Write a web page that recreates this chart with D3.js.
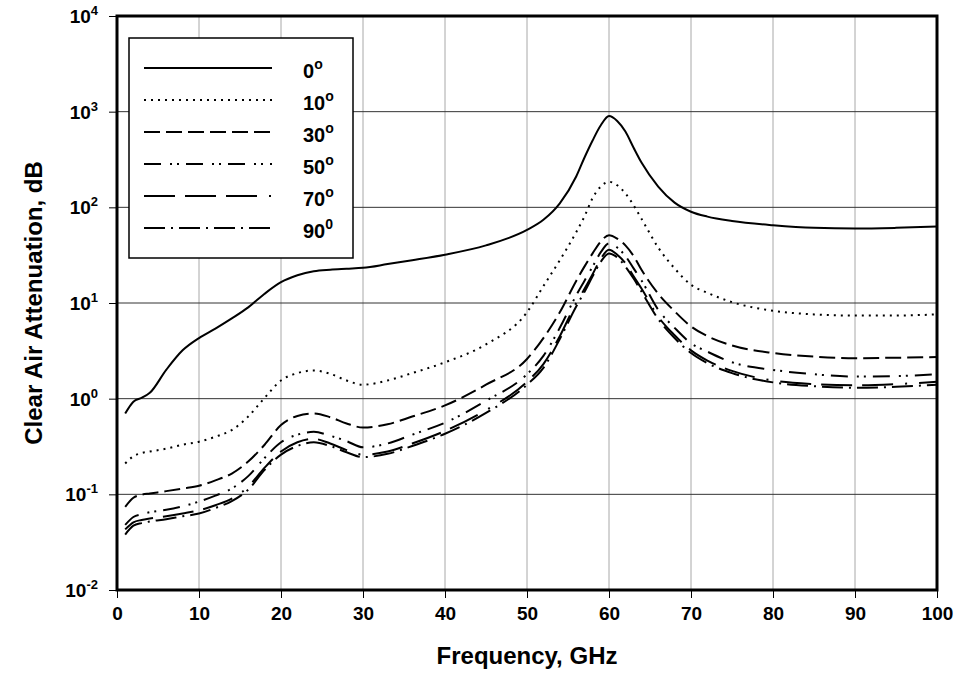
<!DOCTYPE html>
<html>
<head>
<meta charset="utf-8">
<script src="https://cdn.jsdelivr.net/npm/d3@7"></script>
<style>
  html, body { margin: 0; padding: 0; background: #fff; }
  svg { display: block; font-family: "Liberation Sans", Arial, sans-serif; }
</style>
</head>
<body>
<svg id="chart" width="962" height="692"></svg>
<script>
// ---------- data ----------
const freq = [1,2,3,4,6,8,10,12,14,16,18,20,22,24,26,28,30,33,36,40,45,50,52,54,56,57,58,59,60,61,62,63,64,66,68,70,72,75,80,85,90,95,100];

const att0  = [0.70,0.93,1.02,1.15,2.0,3.2,4.3,5.4,6.9,9.0,12.5,16.5,19.5,21.5,22.3,22.8,23.3,25.5,28,32,40,58,74,110,210,330,500,720,900,800,620,420,290,165,112,90,80,72,65,61,60,61,63];
const att10 = [0.21,0.25,0.27,0.28,0.30,0.33,0.355,0.40,0.47,0.65,1.02,1.55,1.85,1.97,1.82,1.55,1.40,1.55,1.85,2.4,3.7,8,15,28,55,80,125,165,185,170,140,105,75,38,23,15.5,12.8,10.2,8.3,7.6,7.4,7.4,7.6];
const att30 = [0.074,0.092,0.099,0.102,0.108,0.115,0.123,0.14,0.165,0.22,0.33,0.53,0.66,0.70,0.64,0.55,0.50,0.54,0.65,0.85,1.4,2.6,4.3,8,17,24,33,44,51,47,40,31,22,12.5,8.2,5.7,4.5,3.6,3.0,2.75,2.65,2.68,2.72];
const att50 = [0.048,0.058,0.062,0.065,0.069,0.075,0.084,0.097,0.115,0.155,0.24,0.35,0.42,0.45,0.41,0.36,0.31,0.34,0.42,0.56,0.95,1.8,2.8,5.5,12,17,24,34,42,38,31,23,17,8.5,5.5,3.8,3.1,2.4,2.0,1.8,1.7,1.72,1.8];
const att70 = [0.043,0.051,0.054,0.056,0.059,0.063,0.068,0.077,0.09,0.12,0.19,0.28,0.35,0.38,0.34,0.29,0.26,0.28,0.34,0.46,0.76,1.5,2.3,4.5,10,14,20,29,36,32,26,19,14,7.2,4.6,3.2,2.5,1.95,1.55,1.42,1.38,1.42,1.5];
const att90 = [0.038,0.047,0.05,0.052,0.055,0.059,0.063,0.072,0.085,0.112,0.18,0.26,0.32,0.35,0.32,0.275,0.245,0.265,0.32,0.43,0.71,1.4,2.1,4.2,9.2,13,19,27,33,30,24,18,13,6.8,4.3,3.0,2.35,1.85,1.48,1.35,1.3,1.33,1.4];

const seriesNames = ["0", "10", "30", "50", "70", "90"];
const seriesSup   = ["o", "o", "o", "o", "o", "0"];
const seriesData  = [att0, att10, att30, att50, att70, att90];

const xTicks = [0,10,20,30,40,50,60,70,80,90,100];
const yExponents = [-2,-1,0,1,2,3,4];

const xTitle = "Frequency, GHz";
const yTitle = "Clear Air Attenuation, dB";

// ---------- styles ----------
const dashes = ["none", "2,5", "16,6", "17,9,2,5,2,7", "31,10,31,10,31,12,2,12", "21,6,2,6"];

// ---------- layout ----------
const L = 117, R = 937, T = 16, B = 590;
const svg = d3.select("#chart");

const x = d3.scaleLinear().domain([0, 100]).range([L, R]);
const y = d3.scaleLog().domain([1e-2, 1e4]).range([B, T]);

// grid
svg.append("g").selectAll("line").data(xTicks.slice(1, -1)).join("line")
  .attr("x1", d => x(d)).attr("x2", d => x(d))
  .attr("y1", T).attr("y2", B)
  .attr("stroke", "#a8a8a8").attr("stroke-width", 1);
svg.append("g").selectAll("line").data(yExponents.slice(1, -1)).join("line")
  .attr("x1", L).attr("x2", R)
  .attr("y1", d => y(Math.pow(10, d))).attr("y2", d => y(Math.pow(10, d)))
  .attr("stroke", "#333").attr("stroke-width", 1);

// series
const line = d3.line()
  .x((d, i) => x(freq[i]))
  .y(d => y(d))
  .curve(d3.curveMonotoneX);

svg.append("g").selectAll("path").data(seriesData).join("path")
  .attr("d", d => line(d))
  .attr("fill", "none")
  .attr("stroke", "#000")
  .attr("stroke-width", 2)
  .attr("stroke-dasharray", (d, i) => dashes[i]);

// frame
svg.append("rect")
  .attr("x", L).attr("y", T).attr("width", R - L).attr("height", B - T)
  .attr("fill", "none").attr("stroke", "#000").attr("stroke-width", 3);

// x axis
const xAxis = svg.append("g").attr("transform", `translate(0,${B})`)
  .call(d3.axisBottom(x).tickValues(xTicks).tickSize(8).tickSizeOuter(0).tickPadding(9).tickFormat(d3.format("d")));
xAxis.select(".domain").remove();
xAxis.selectAll("line").attr("stroke", "#000").attr("stroke-width", 1);
xAxis.selectAll("text")
  .attr("font-size", 19).attr("font-weight", "bold").attr("fill", "#000")
  .attr("font-family", "Liberation Sans, Arial, sans-serif");

// y axis
const yAxis = svg.append("g").attr("transform", `translate(${L},0)`)
  .call(d3.axisLeft(y).tickValues(yExponents.map(e => Math.pow(10, e))).tickSize(8).tickSizeOuter(0).tickFormat(() => ""));
yAxis.select(".domain").remove();
yAxis.selectAll("line").attr("stroke", "#000").attr("stroke-width", 1);

const yLab = svg.append("g").selectAll("text").data(yExponents).join("text")
  .attr("x", 98).attr("y", d => y(Math.pow(10, d)) + 7)
  .attr("text-anchor", "end")
  .attr("font-size", 19).attr("font-weight", "bold").attr("fill", "#000");
yLab.append("tspan").text("10");
yLab.append("tspan").attr("dy", -8).attr("font-size", 13).text(d => String(d));

// axis titles
svg.append("text")
  .attr("x", (L + R) / 2).attr("y", 664)
  .attr("text-anchor", "middle")
  .attr("font-size", 24).attr("font-weight", "bold")
  .text(xTitle);
svg.append("text")
  .attr("transform", `translate(42,${(T + B) / 2}) rotate(-90)`)
  .attr("text-anchor", "middle")
  .attr("font-size", 24).attr("font-weight", "bold")
  .text(yTitle);

// legend
const leg = svg.append("g");
leg.append("rect")
  .attr("x", 129).attr("y", 38).attr("width", 224).attr("height", 220)
  .attr("fill", "#fff").attr("stroke", "#000").attr("stroke-width", 1.5);
const rowY = i => 68 + i * 32;
leg.selectAll("line.s").data(seriesNames).join("line")
  .attr("class", "s")
  .attr("x1", 144).attr("x2", 272)
  .attr("y1", (d, i) => rowY(i)).attr("y2", (d, i) => rowY(i))
  .attr("stroke", "#000").attr("stroke-width", 2)
  .attr("stroke-dasharray", (d, i) => dashes[i]);
const lt = leg.selectAll("text").data(seriesNames).join("text")
  .attr("x", 303).attr("y", (d, i) => rowY(i) + 10)
  .attr("font-size", 20).attr("font-weight", "bold");
lt.append("tspan").text(d => d);
lt.append("tspan").attr("dy", -9).attr("font-size", 14).text((d, i) => seriesSup[i]);
</script>
</body>
</html>
